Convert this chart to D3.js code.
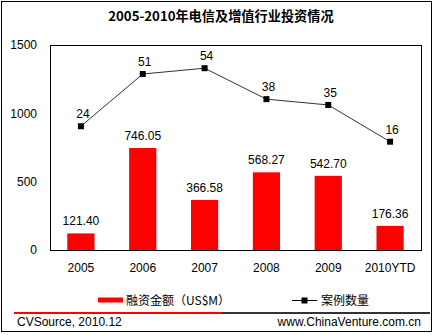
<!DOCTYPE html>
<html>
<head>
<meta charset="utf-8">
<script src="https://cdn.jsdelivr.net/npm/d3@7"></script>
<style>
  html, body { margin: 0; padding: 0; background: #fff; }
  svg { display: block; }
  text { font-family: "Liberation Sans", Arial, sans-serif; fill: #000; }
  .cjk { font-family: "Noto Sans CJK SC", sans-serif; }
</style>
</head>
<body>
<script>
// Investment in telecom & value-added services, 2005-2010
const categories = ["2005", "2006", "2007", "2008", "2009", "2010YTD"];
const amounts = [121.40, 746.05, 366.58, 568.27, 542.70, 176.36];   // US$M
const dealCounts = [24, 51, 54, 38, 35, 16];                         // number of deals
const leftTicks = [0, 500, 1000, 1500];

const W = 435, H = 335;
const plot = { left: 50, right: 421, top: 45, bottom: 250 };

const svg = d3.select("body").append("svg")
  .attr("width", W).attr("height", H);

// outer frame
svg.append("rect")
  .attr("x", 1.5).attr("y", 1.5).attr("width", 430).attr("height", 330)
  .attr("fill", "#fff").attr("stroke", "#000").attr("stroke-width", 1);

// title
svg.append("text").attr("class", "cjk")
  .attr("x", 221).attr("y", 20.5)
  .attr("text-anchor", "middle")
  .style("font-size", "13.2px").style("font-weight", "bold")
  .text("2005-2010年电信及增值行业投资情况");

const x = d3.scaleBand().domain(categories)
  .range([plot.left, plot.right]).paddingInner(0.56).paddingOuter(0.28);
const y = d3.scaleLinear().domain([0, 1500]).range([plot.bottom, plot.top]);
// hidden secondary scale for the deal counts
const y2 = d3.scaleLinear().domain([-40, 66]).range([plot.bottom, plot.top]);

// plot area box
svg.append("rect")
  .attr("x", plot.left + 0.5).attr("y", plot.top + 0.5)
  .attr("width", plot.right - plot.left).attr("height", plot.bottom - plot.top)
  .attr("fill", "none").attr("stroke", "#000").attr("stroke-width", 1);

// left axis labels
const yAxis = d3.axisLeft(y).tickValues(leftTicks).tickFormat(d3.format("d"))
  .tickSize(0).tickPadding(0);
const gy = svg.append("g").attr("transform", `translate(37,0)`).call(yAxis);
gy.select(".domain").remove();
gy.selectAll("text").style("font-size", "12px")
  .style("font-family", "'Liberation Sans', Arial, sans-serif").attr("fill", "#000");

// category labels
const xAxis = d3.axisBottom(x).tickSize(0).tickPadding(0);
const gx = svg.append("g").attr("transform", `translate(0,${plot.bottom + 13})`).call(xAxis);
gx.select(".domain").remove();
gx.selectAll("text").style("font-size", "12px")
  .style("font-family", "'Liberation Sans', Arial, sans-serif").attr("fill", "#000");

// bars
svg.selectAll(".bar").data(amounts).join("rect")
  .attr("class", "bar")
  .attr("x", (d, i) => x(categories[i]))
  .attr("width", x.bandwidth())
  .attr("y", d => y(d))
  .attr("height", d => y(0) - y(d))
  .attr("fill", "#ff0000");

svg.selectAll(".barLabel").data(amounts).join("text")
  .attr("class", "barLabel")
  .attr("x", (d, i) => x(categories[i]) + x.bandwidth() / 2)
  .attr("y", d => y(d) - 8)
  .attr("text-anchor", "middle")
  .style("font-size", "12px")
  .text(d => d.toFixed(2));

// deal count line
const cx = i => x(categories[i]) + x.bandwidth() / 2;
const line = d3.line().x((d, i) => cx(i)).y(d => y2(d));
svg.append("path").datum(dealCounts)
  .attr("d", line).attr("fill", "none")
  .attr("stroke", "#333").attr("stroke-width", 1);

svg.selectAll(".marker").data(dealCounts).join("rect")
  .attr("class", "marker")
  .attr("x", (d, i) => cx(i) - 3).attr("y", d => y2(d) - 3)
  .attr("width", 6).attr("height", 6).attr("fill", "#000");

svg.selectAll(".countLabel").data(dealCounts).join("text")
  .attr("class", "countLabel")
  .attr("x", (d, i) => cx(i) + 2)
  .attr("y", d => y2(d) - 8)
  .attr("text-anchor", "middle")
  .style("font-size", "12px")
  .text(d => d);

// legend
const lg = svg.append("g");
lg.append("rect").attr("x", 98).attr("y", 297.5).attr("width", 25).attr("height", 5)
  .attr("fill", "#ff0000");
lg.append("text").attr("class", "cjk").attr("x", 126).attr("y", 304.5)
  .style("font-size", "12px").text("融资金额（US$M）");
lg.append("line").attr("x1", 292).attr("x2", 317).attr("y1", 300.5).attr("y2", 300.5)
  .attr("stroke", "#000").attr("stroke-width", 1);
lg.append("rect").attr("x", 301.5).attr("y", 297.5).attr("width", 6).attr("height", 6)
  .attr("fill", "#000");
lg.append("text").attr("class", "cjk").attr("x", 321).attr("y", 304.5)
  .style("font-size", "12px").text("案例数量");

// footer rule
svg.append("line").attr("x1", 14).attr("x2", 222).attr("y1", 313).attr("y2", 313)
  .attr("stroke", "#ff0000").attr("stroke-width", 2);
svg.append("line").attr("x1", 222).attr("x2", 430).attr("y1", 313).attr("y2", 313)
  .attr("stroke", "#333").attr("stroke-width", 2);

// footer text
svg.append("text").attr("x", 17).attr("y", 326)
  .style("font-size", "12px").text("CVSource, 2010.12");
svg.append("text").attr("x", 421).attr("y", 326).attr("text-anchor", "end")
  .style("font-size", "12px").text("www.ChinaVenture.com.cn");
</script>
</body>
</html>
